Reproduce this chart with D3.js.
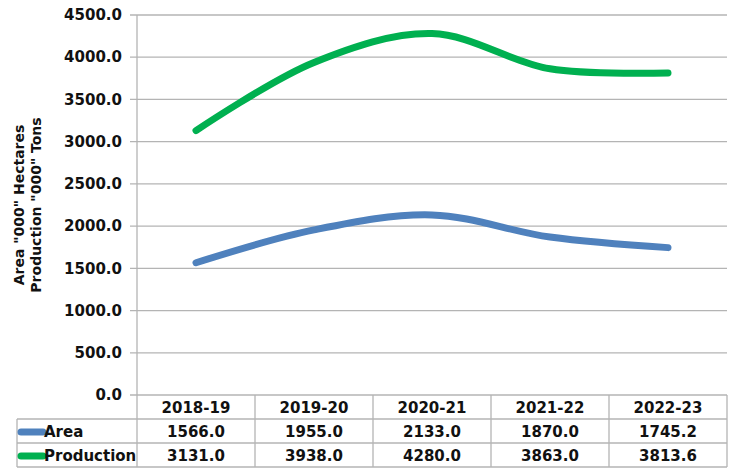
<!DOCTYPE html>
<html>
<head>
<meta charset="utf-8">
<script src="https://cdn.jsdelivr.net/npm/d3@7"></script>
<style>
  body { margin: 0; background: #fff; }
  svg text { font-family: "DejaVu Sans", Verdana, sans-serif; font-weight: bold; fill: #111; }
</style>
</head>
<body>
<svg width="730" height="470"></svg>
<script>
// data
var years = ["2018-19", "2019-20", "2020-21", "2021-22", "2022-23"];
var area = [1566.0, 1955.0, 2133.0, 1870.0, 1745.2];
var production = [3131.0, 3938.0, 4280.0, 3863.0, 3813.6];
var yTicks = [0, 500, 1000, 1500, 2000, 2500, 3000, 3500, 4000, 4500];

var series = [
  {name: "Area", values: area, color: "#4f81bd"},
  {name: "Production", values: production, color: "#00b050"}
];

var svg = d3.select("svg");
// note: "top" is taken by window.top, so plotTop etc.
var plotLeft = 137, plotRight = 727, plotTop = 15, plotBottom = 395;
var rowH = 24, tableLeft = 17;

var x = d3.scaleBand().domain(years).range([plotLeft, plotRight]);
var y = d3.scaleLinear().domain([0, 4500]).range([plotBottom, plotTop]);

var grid = "#b4b4b4";

// gridlines
svg.append("g").selectAll("line").data(yTicks).enter().append("line")
    .attr("x1", plotLeft - 7).attr("x2", plotRight)
    .attr("y1", function (d) { return y(d); })
    .attr("y2", function (d) { return y(d); })
    .attr("stroke", grid).attr("stroke-width", 1.3);

// y axis line
svg.append("line")
    .attr("x1", plotLeft).attr("x2", plotLeft).attr("y1", plotTop).attr("y2", plotBottom)
    .attr("stroke", grid).attr("stroke-width", 1.3);

// tick labels
svg.append("g").selectAll("text").data(yTicks).enter().append("text")
    .attr("x", 122)
    .attr("y", function (d) { return y(d); })
    .attr("dy", "0.35em")
    .attr("text-anchor", "end")
    .style("font-size", "15px")
    .text(function (d) { return d3.format(".1f")(d); });

// axis title
var title = svg.append("text")
    .attr("transform", "translate(24,205) rotate(-90)")
    .attr("text-anchor", "middle")
    .style("font-size", "14px");
title.append("tspan").attr("x", 0).attr("dy", 0).text('Area "000" Hectares');
title.append("tspan").attr("x", 0).attr("dy", 17).text('Production "000" Tons');

// lines
var line = d3.line()
    .x(function (d, i) { return x(years[i]) + x.bandwidth() / 2; })
    .y(function (d) { return y(d); })
    .curve(d3.curveCatmullRom.alpha(0.5));

svg.append("g").selectAll("path").data(series).enter().append("path")
    .attr("d", function (d) { return line(d.values); })
    .attr("fill", "none")
    .attr("stroke", function (d) { return d.color; })
    .attr("stroke-width", 7)
    .attr("stroke-linecap", "round");

// data table
var table = svg.append("g");
var tableBottom = plotBottom + rowH * 3;

// column lines
table.selectAll("line.v").data(years.concat(["end"])).enter().append("line")
    .attr("x1", function (d, i) { return plotLeft + i * x.bandwidth(); })
    .attr("x2", function (d, i) { return plotLeft + i * x.bandwidth(); })
    .attr("y1", plotBottom).attr("y2", tableBottom)
    .attr("stroke", grid).attr("stroke-width", 1.3);

// row lines
[1, 2, 3].forEach(function (r) {
  table.append("line")
      .attr("x1", tableLeft).attr("x2", plotRight)
      .attr("y1", plotBottom + r * rowH).attr("y2", plotBottom + r * rowH)
      .attr("stroke", grid).attr("stroke-width", 1.3);
});
table.append("line")
    .attr("x1", tableLeft).attr("x2", tableLeft)
    .attr("y1", plotBottom + rowH).attr("y2", tableBottom)
    .attr("stroke", grid).attr("stroke-width", 1.3);

table.selectAll("text.h").data(years).enter().append("text")
    .attr("x", function (d) { return x(d) + x.bandwidth() / 2; })
    .attr("y", plotBottom + rowH / 2 + 1)
    .attr("dy", "0.35em")
    .attr("text-anchor", "middle")
    .style("font-size", "15px")
    .text(function (d) { return d; });

series.forEach(function (s, r) {
  var cy = plotBottom + rowH * (r + 1) + rowH / 2 + 1;
  table.append("line")
      .attr("x1", tableLeft + 4).attr("x2", 43)
      .attr("y1", cy).attr("y2", cy)
      .attr("stroke", s.color).attr("stroke-width", 7)
      .attr("stroke-linecap", "round");
  table.append("text")
      .attr("x", 44).attr("y", cy).attr("dy", "0.35em")
      .style("font-size", "15px")
      .text(s.name);
  table.selectAll(null).data(s.values).enter().append("text")
      .attr("x", function (d, i) { return x(years[i]) + x.bandwidth() / 2; })
      .attr("y", cy).attr("dy", "0.35em")
      .attr("text-anchor", "middle")
      .style("font-size", "15px")
      .text(function (d) { return d3.format(".1f")(d); });
});
</script>
</body>
</html>
